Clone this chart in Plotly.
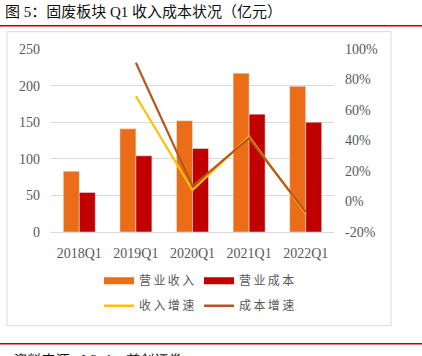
import plotly.graph_objects as go

categories = ["2018Q1", "2019Q1", "2020Q1", "2021Q1", "2022Q1"]
revenue = [83, 141, 152, 217, 199]
cost = [54, 104, 114, 161, 150]
revenue_growth = [None, 69, 7.5, 42.5, -8]
cost_growth = [None, 91, 10, 41.5, -7]
left_ticks = [0, 50, 100, 150, 200, 250]
right_ticks = [-20, 0, 20, 40, 60, 80, 100]
right_tick_labels = [f"{v}%" for v in right_ticks]

C_REV = "#EC6D17"
C_COST = "#C00000"
C_RG = "#FFC000"
C_CG = "#B5581E"
GREY = "#595959"

W, H = 422, 356
L, R, T, B = 51, 334, 49.3, 232.3
PW, PH = R - L, B - T


def px(x):
    return (x - L) / PW


def py(y):
    return (B - y) / PH


def spaced(s):
    return "\u2009".join(s)


fig = go.Figure()
fig.add_trace(go.Bar(x=categories, y=revenue, name="营业收入", marker_color=C_REV,
                     showlegend=False))
fig.add_trace(go.Bar(x=categories, y=cost, name="营业成本", marker_color=C_COST,
                     showlegend=False))
fig.add_trace(go.Scatter(x=categories, y=revenue_growth, yaxis="y2", mode="lines",
                         line=dict(color=C_RG, width=2.2), showlegend=False))
fig.add_trace(go.Scatter(x=categories, y=cost_growth, yaxis="y2", mode="lines",
                         line=dict(color=C_CG, width=2.2), showlegend=False))

# legend entries
fig.add_trace(go.Scatter(x=[None], y=[None], mode="lines", name=spaced("营业收入"),
                         line=dict(color=C_REV, width=7), legend="legend"))
fig.add_trace(go.Scatter(x=[None], y=[None], mode="lines", name=spaced("营业成本"),
                         line=dict(color=C_COST, width=7), legend="legend"))
fig.add_trace(go.Scatter(x=[None], y=[None], mode="lines", name=spaced("收入增速"),
                         line=dict(color=C_RG, width=2.5), legend="legend2"))
fig.add_trace(go.Scatter(x=[None], y=[None], mode="lines", name=spaced("成本增速"),
                         line=dict(color=C_CG, width=2.5), legend="legend2"))

tick_font = dict(family="Liberation Serif, Times New Roman, serif", size=14, color=GREY)
leg_font = dict(family="Noto Sans CJK SC", size=12, color=GREY)

fig.update_layout(
    width=W, height=H,
    margin=dict(l=L, r=W - R, t=T, b=H - B, autoexpand=False),
    paper_bgcolor="white", plot_bgcolor="white",
    barmode="group", bargap=0.435, bargroupgap=0,
    hovermode=False,
    xaxis=dict(type="category", showline=True, linecolor="#D9D9D9", linewidth=1,
               tickfont=tick_font, ticks="", ticklabelstandoff=8, fixedrange=True),
    yaxis=dict(range=[0, 250], tickvals=left_ticks, showgrid=True, gridcolor="#D9D9D9",
               gridwidth=1, zeroline=False, tickfont=tick_font, ticklabelstandoff=10,
               showline=False, fixedrange=True),
    yaxis2=dict(range=[-20, 100], tickvals=right_ticks, ticktext=right_tick_labels,
                overlaying="y", side="right", showgrid=False, zeroline=False,
                tickfont=tick_font, ticklabelstandoff=10, showline=False, fixedrange=True),
    legend=dict(orientation="h", x=px(99), y=py(281), xanchor="left", yanchor="middle",
                font=leg_font, entrywidth=55, entrywidthmode="pixels",
                bgcolor="rgba(0,0,0,0)", borderwidth=0, tracegroupgap=0),
    legend2=dict(orientation="h", x=px(99), y=py(306), xanchor="left", yanchor="middle",
                 font=leg_font, entrywidth=55, entrywidthmode="pixels",
                 bgcolor="rgba(0,0,0,0)", borderwidth=0, tracegroupgap=0),
    shapes=[
        dict(type="line", xref="paper", yref="paper", x0=px(0), x1=px(W), y0=py(26), y1=py(26),
             line=dict(color="#C00000", width=1.5)),
        dict(type="rect", xref="paper", yref="paper", x0=px(7), x1=px(391), y0=py(32), y1=py(326),
             line=dict(color="#D9D9D9", width=1), layer="below"),
        dict(type="line", xref="paper", yref="paper", x0=px(0), x1=px(W), y0=py(344), y1=py(344),
             line=dict(color="#C00000", width=1.5)),
    ],
    annotations=[
        dict(text="图 5：固废板块 Q1 收入成本状况（亿元）", xref="paper", yref="paper",
             x=px(3), y=py(12), xanchor="left", yanchor="middle", showarrow=False,
             font=dict(family="Liberation Serif, Noto Sans CJK SC", size=15, color="#111111")),
        dict(text="<i>资料来源：Wind，首创证券</i>", xref="paper", yref="paper",
             x=px(9), y=py(351), xanchor="left", yanchor="top", showarrow=False,
             font=dict(family="Liberation Serif, Noto Sans CJK SC", size=14, color="#111111")),
    ],
)

fig.write_html("out.html", config={"displayModeBar": False},
               post_script="document.body.style.margin='0';document.body.style.overflow='hidden';")
